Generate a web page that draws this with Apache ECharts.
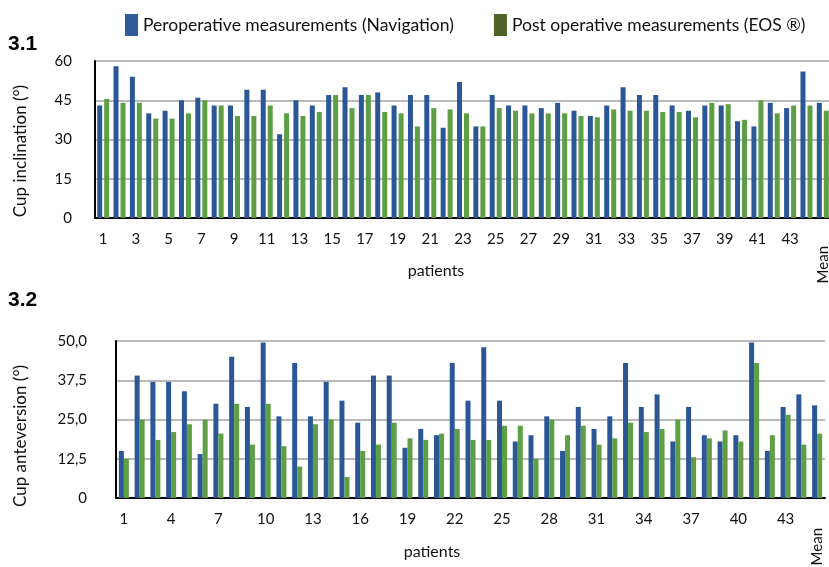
<!DOCTYPE html>
<html>
<head>
<meta charset="utf-8">
<script src="https://cdn.jsdelivr.net/npm/echarts@6/dist/echarts.min.js"></script>
<style>
  html, body { margin: 0; padding: 0; background: #ffffff; }
  #chart { width: 829px; height: 567px; }
</style>
</head>
<body>
<div id="chart"></div>
<script>
// ---------- data ----------
var patients = ['1','2','3','4','5','6','7','8','9','10','11','12','13','14','15','16','17','18','19','20','21','22','23','24','25','26','27','28','29','30','31','32','33','34','35','36','37','38','39','40','41','42','43','44','Mean'];

var seriesNames = ['Peroperative measurements (Navigation)', 'Post operative measurements (EOS \u00AE)'];

// 3.1 Cup inclination (°)
var inclinationNavigation = [43,58,54,40,41,45,46,43,43,49,49,32,45,43,47,50,47,48,43,47,47,34.5,52,35,47,43,43,42,44,41,39,43,50,47,47,43,41,43,43,37,35,44,42,56,44];
var inclinationEOS        = [45.5,44,44,38,38,40,45,43,39,39,43,40,39,40.5,47,42,47,40.5,40,35,42,41.5,40,35,42,41,40,40,40,39,38.5,41.5,41,41,40.5,40.5,38.5,44,43.5,37.5,45,40,43,43,41];

// 3.2 Cup anteversion (°)
var anteversionNavigation = [15,39,37,37,34,14,30,45,29,49.5,26,43,26,37,31,24,39,39,16,22,20,43,31,48,31,18,20,26,15,29,22,26,43,29,33,18,29,20,18,20,49.5,15,29,33,29.5];
var anteversionEOS        = [12.5,25,18.5,21,23.5,25,20.5,30,17,30,16.5,10,23.5,25,6.7,15,17,24,19,18.5,20.5,22,18.5,18.5,23,23,12.5,25,20,23,17,19,24,21,22,25,13,19,21.5,18,43,20,26.5,17,20.5];

// tick settings
var inclinationTicks = { min: 0, max: 60, interval: 15 };
var anteversionTicks = { min: 0, max: 50, interval: 12.5 };

// ---------- styling ----------
var BLUE = '#2B5797';
var GREEN = '#5E9F45';
var LEG_BLUE = '#2E5C9C';
var LEG_GREEN = '#4F6228';
var FONT = 'Lato';
var TXT = '#111111';

var chart = echarts.init(document.getElementById('chart'), null, { renderer: 'canvas' });

function mainX(gridIndex, step) {
  return {
    type: 'category', gridIndex: gridIndex, data: patients,
    axisLine: { show: true, lineStyle: { color: '#000', width: 2 } },
    axisTick: { show: false },
    axisLabel: {
      interval: function (i, v) { return v !== 'Mean' && i % step === 0; },
      color: TXT, fontFamily: FONT, fontSize: 15, margin: 14
    },
    splitLine: { show: false }
  };
}
function meanX(gridIndex, margin) {
  return {
    type: 'category', gridIndex: gridIndex, data: patients, position: 'bottom',
    axisLine: { show: false }, axisTick: { show: false },
    axisLabel: {
      interval: function (i, v) { return v === 'Mean'; },
      rotate: 90, color: TXT, fontFamily: FONT, fontSize: 15, margin: margin
    },
    splitLine: { show: false }
  };
}
function valY(gridIndex, ticks, margin, fmt) {
  return {
    type: 'value', gridIndex: gridIndex, min: ticks.min, max: ticks.max, interval: ticks.interval,
    axisLine: { show: true, lineStyle: { color: '#000', width: 2 } },
    axisTick: { show: false },
    axisLabel: { color: TXT, fontFamily: FONT, fontSize: 15, margin: margin, formatter: fmt },
    splitLine: { show: true, lineStyle: { color: '#A3A3A3', width: 1.5 } }
  };
}

var option = {
  backgroundColor: '#ffffff',
  animation: false,
  legend: {
    left: 120, top: 9,
    itemWidth: 13, itemHeight: 22, itemGap: 40,
    icon: 'rect',
    textStyle: { color: TXT, fontFamily: FONT, fontSize: 17.5 },
    data: [
      { name: seriesNames[0], itemStyle: { color: LEG_BLUE } },
      { name: seriesNames[1], itemStyle: { color: LEG_GREEN } }
    ]
  },
  grid: [
    { left: 95, right: -2, top: 61, height: 157, containLabel: false, outerBoundsMode: 'none' },
    { left: 116, right: 4, top: 341, height: 157, containLabel: false, outerBoundsMode: 'none' }
  ],
  xAxis: [ mainX(0, 2), meanX(0, 28), mainX(1, 3), meanX(1, 30) ],
  yAxis: [
    valY(0, inclinationTicks, 23, function (v) { return String(v); }),
    valY(1, anteversionTicks, 29, function (v) { return v === 0 ? '0' : v.toFixed(1).replace('.', ','); })
  ],
  series: [
    { name: seriesNames[0], type: 'bar', xAxisIndex: 0, yAxisIndex: 0, data: inclinationNavigation,
      barWidth: 5, barGap: '40%', itemStyle: { color: BLUE } },
    { name: seriesNames[1], type: 'bar', xAxisIndex: 0, yAxisIndex: 0, data: inclinationEOS,
      barWidth: 5, barGap: '40%', itemStyle: { color: GREEN } },
    { name: seriesNames[0], type: 'bar', xAxisIndex: 2, yAxisIndex: 1, data: anteversionNavigation,
      barWidth: 5, barGap: '0%', itemStyle: { color: BLUE } },
    { name: seriesNames[1], type: 'bar', xAxisIndex: 2, yAxisIndex: 1, data: anteversionEOS,
      barWidth: 5, barGap: '0%', itemStyle: { color: GREEN } }
  ],
  graphic: [
    { type: 'text', left: 8, top: 34, style: { text: '3.1', fill: '#000', font: 'bold 21px "Liberation Sans", Arial, sans-serif' } },
    { type: 'text', left: 8, top: 290, style: { text: '3.2', fill: '#000', font: 'bold 21px "Liberation Sans", Arial, sans-serif' } },
    { type: 'text', x: 21, y: 151, rotation: Math.PI / 2,
      style: { text: 'Cup inclination (\u00B0)', fill: TXT, font: '17px Lato', textAlign: 'center', textVerticalAlign: 'middle' } },
    { type: 'text', x: 21, y: 436, rotation: Math.PI / 2,
      style: { text: 'Cup anteversion (\u00B0)', fill: TXT, font: '17px Lato', textAlign: 'center', textVerticalAlign: 'middle' } },
    { type: 'text', x: 436, y: 271,
      style: { text: 'patients', fill: TXT, font: '16px Lato', textAlign: 'center', textVerticalAlign: 'middle' } },
    { type: 'text', x: 432, y: 552,
      style: { text: 'patients', fill: TXT, font: '16px Lato', textAlign: 'center', textVerticalAlign: 'middle' } }
  ]
};
chart.setOption(option);
</script>
</body>
</html>
